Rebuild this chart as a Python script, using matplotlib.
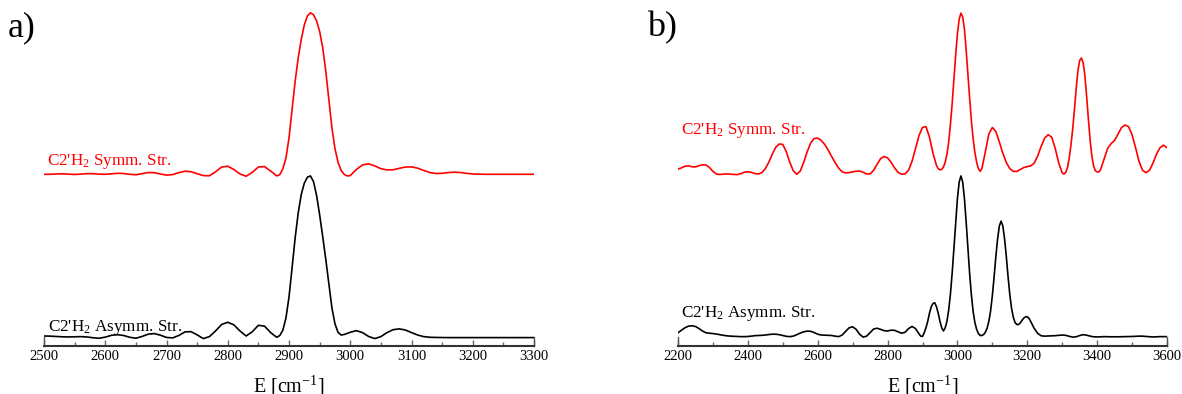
import matplotlib
matplotlib.use('Agg')
import matplotlib.pyplot as plt
from matplotlib.ticker import MultipleLocator

plt.rcParams['font.family'] = ['Liberation Serif', 'DejaVu Serif']
plt.rcParams['mathtext.fontset'] = 'custom'
plt.rcParams['mathtext.rm'] = 'Liberation Serif'
plt.rcParams['mathtext.it'] = 'Liberation Serif:italic'

# --- data: (E [cm-1], intensity normalised to tallest peak) ---
symm_a = [
    (2500, 0.000), (2510, 0.000), (2520, 0.002), (2530, 0.003), (2540, 0.001), (2550, -0.001),
    (2560, 0.001), (2570, 0.004), (2580, 0.004), (2590, 0.001), (2600, 0.000), (2610, 0.003),
    (2620, 0.006), (2630, 0.005), (2640, 0.000), (2650, -0.003), (2660, 0.004), (2670, 0.011),
    (2680, 0.010), (2690, 0.002), (2700, -0.005), (2710, -0.002), (2720, 0.010), (2730, 0.019),
    (2740, 0.016), (2750, 0.004), (2760, -0.008), (2770, -0.009), (2780, 0.015), (2790, 0.045),
    (2800, 0.050), (2810, 0.030), (2820, 0.002), (2830, -0.012), (2840, 0.012), (2850, 0.045),
    (2860, 0.048), (2870, 0.020), (2880, -0.010), (2885, -0.002), (2890, 0.035), (2895, 0.100),
    (2900, 0.225), (2905, 0.400), (2910, 0.575), (2915, 0.720), (2920, 0.835), (2925, 0.925),
    (2930, 0.980), (2935, 1.000), (2940, 0.988), (2945, 0.950), (2950, 0.885), (2955, 0.785),
    (2960, 0.640), (2965, 0.465), (2970, 0.290), (2975, 0.160), (2980, 0.075), (2985, 0.025),
    (2990, 0.000), (2995, -0.010), (3000, -0.008), (3010, 0.030), (3020, 0.058), (3030, 0.065),
    (3040, 0.052), (3050, 0.035), (3060, 0.027), (3070, 0.028), (3080, 0.037), (3090, 0.045),
    (3100, 0.046), (3110, 0.038), (3120, 0.024), (3130, 0.011), (3140, 0.005), (3150, 0.006),
    (3160, 0.011), (3170, 0.013), (3180, 0.011), (3190, 0.006), (3200, 0.002), (3210, 0.001),
    (3220, 0.000), (3240, 0.000), (3260, 0.000), (3280, 0.000), (3300, 0.000),
]
asymm_a = [
    (2500, 0.009), (2510, 0.008), (2520, 0.006), (2530, 0.004), (2540, 0.003), (2550, 0.004),
    (2560, 0.005), (2570, 0.003), (2580, -0.002), (2590, -0.005), (2600, 0.002), (2610, 0.013),
    (2620, 0.017), (2630, 0.012), (2640, 0.001), (2650, -0.005), (2660, 0.006), (2670, 0.020),
    (2680, 0.024), (2690, 0.014), (2700, 0.000), (2710, -0.003), (2720, 0.012), (2730, 0.034),
    (2740, 0.036), (2750, 0.016), (2760, -0.007), (2770, 0.005), (2780, 0.040), (2790, 0.080),
    (2800, 0.094), (2810, 0.078), (2820, 0.040), (2830, 0.009), (2840, 0.035), (2850, 0.075),
    (2860, 0.070), (2870, 0.030), (2880, 0.001), (2885, 0.012), (2890, 0.045), (2895, 0.120),
    (2900, 0.250), (2905, 0.430), (2910, 0.615), (2915, 0.770), (2920, 0.885), (2925, 0.955),
    (2930, 0.992), (2935, 1.000), (2940, 0.965), (2945, 0.880), (2950, 0.760), (2955, 0.625),
    (2960, 0.485), (2965, 0.335), (2970, 0.185), (2975, 0.085), (2980, 0.032), (2985, 0.015),
    (2990, 0.018), (3000, 0.032), (3010, 0.042), (3020, 0.030), (3030, 0.006), (3040, -0.007),
    (3050, 0.005), (3060, 0.030), (3070, 0.048), (3080, 0.053), (3090, 0.046), (3100, 0.030),
    (3110, 0.015), (3120, 0.005), (3130, 0.001), (3140, 0.000), (3160, -0.001), (3180, -0.001),
    (3200, -0.001), (3220, -0.001), (3240, -0.001), (3260, -0.001), (3280, -0.001), (3300, -0.001),
]
symm_b = [
    (2200, 0.032), (2210, 0.040), (2220, 0.050), (2230, 0.052), (2240, 0.047), (2250, 0.046),
    (2260, 0.053), (2270, 0.059), (2280, 0.058), (2290, 0.042), (2300, 0.018), (2310, 0.002),
    (2320, -0.001), (2330, 0.001), (2340, 0.002), (2350, 0.001), (2360, -0.001), (2370, -0.002),
    (2380, 0.004), (2390, 0.013), (2400, 0.016), (2410, 0.012), (2420, 0.005), (2430, 0.002),
    (2440, 0.010), (2450, 0.035), (2460, 0.075), (2470, 0.125), (2480, 0.168), (2490, 0.188),
    (2500, 0.185), (2510, 0.140), (2520, 0.075), (2530, 0.022), (2540, 0.000), (2550, 0.020),
    (2560, 0.075), (2570, 0.140), (2580, 0.195), (2590, 0.222), (2600, 0.224), (2610, 0.210),
    (2620, 0.185), (2630, 0.150), (2640, 0.110), (2650, 0.072), (2660, 0.038), (2670, 0.015),
    (2680, 0.009), (2690, 0.011), (2700, 0.015), (2710, 0.019), (2720, 0.020), (2730, 0.013),
    (2740, 0.002), (2750, 0.002), (2760, 0.025), (2770, 0.062), (2780, 0.097), (2790, 0.110),
    (2800, 0.102), (2810, 0.075), (2820, 0.040), (2830, 0.012), (2840, 0.001), (2850, 0.002),
    (2860, 0.025), (2870, 0.080), (2880, 0.160), (2890, 0.240), (2900, 0.290), (2910, 0.295),
    (2920, 0.230), (2930, 0.130), (2940, 0.055), (2945, 0.035), (2950, 0.028), (2955, 0.030),
    (2960, 0.045), (2965, 0.075), (2970, 0.125), (2975, 0.200), (2980, 0.310), (2985, 0.440),
    (2990, 0.590), (2995, 0.740), (3000, 0.870), (3005, 0.960), (3010, 0.998), (3015, 0.975),
    (3020, 0.900), (3025, 0.770), (3030, 0.620), (3035, 0.470), (3040, 0.330), (3045, 0.220),
    (3050, 0.135), (3055, 0.075), (3060, 0.035), (3065, 0.018), (3070, 0.035), (3080, 0.140),
    (3090, 0.250), (3100, 0.290), (3110, 0.265), (3120, 0.200), (3130, 0.130), (3140, 0.072),
    (3150, 0.035), (3160, 0.018), (3170, 0.018), (3180, 0.030), (3190, 0.042), (3200, 0.048),
    (3210, 0.052), (3220, 0.070), (3230, 0.115), (3240, 0.175), (3250, 0.225), (3260, 0.245),
    (3270, 0.230), (3280, 0.160), (3290, 0.070), (3300, 0.008), (3305, 0.002), (3310, 0.012),
    (3315, 0.040), (3320, 0.100), (3325, 0.180), (3330, 0.280), (3335, 0.400), (3340, 0.530),
    (3345, 0.640), (3350, 0.705), (3355, 0.720), (3360, 0.690), (3365, 0.610), (3370, 0.480),
    (3375, 0.340), (3380, 0.210), (3385, 0.110), (3390, 0.050), (3395, 0.022), (3400, 0.015),
    (3405, 0.015), (3410, 0.030), (3420, 0.095), (3430, 0.160), (3440, 0.190), (3450, 0.210),
    (3460, 0.250), (3470, 0.290), (3480, 0.305), (3490, 0.295), (3500, 0.245), (3510, 0.165),
    (3520, 0.080), (3530, 0.025), (3540, 0.010), (3550, 0.025), (3560, 0.070), (3570, 0.125),
    (3580, 0.165), (3590, 0.180), (3600, 0.165),
]
asymm_b = [
    (2200, 0.029), (2210, 0.045), (2220, 0.060), (2230, 0.070), (2240, 0.072), (2250, 0.068),
    (2260, 0.055), (2270, 0.040), (2280, 0.029), (2290, 0.026), (2300, 0.024), (2310, 0.021),
    (2320, 0.017), (2330, 0.013), (2340, 0.010), (2350, 0.008), (2360, 0.007), (2370, 0.006),
    (2380, 0.005), (2390, 0.005), (2400, 0.006), (2410, 0.008), (2420, 0.011), (2430, 0.012),
    (2440, 0.013), (2450, 0.015), (2460, 0.018), (2470, 0.020), (2480, 0.020), (2490, 0.017),
    (2500, 0.012), (2510, 0.007), (2520, 0.005), (2530, 0.008), (2540, 0.017), (2550, 0.027),
    (2560, 0.035), (2570, 0.039), (2580, 0.038), (2590, 0.030), (2600, 0.020), (2610, 0.015),
    (2620, 0.014), (2630, 0.013), (2640, 0.012), (2650, 0.008), (2660, 0.005), (2670, 0.015),
    (2680, 0.038), (2690, 0.060), (2700, 0.066), (2710, 0.050), (2720, 0.020), (2730, 0.002),
    (2740, 0.008), (2750, 0.030), (2760, 0.052), (2770, 0.057), (2780, 0.050), (2790, 0.042),
    (2800, 0.040), (2810, 0.045), (2820, 0.044), (2830, 0.035), (2840, 0.026), (2850, 0.032),
    (2860, 0.055), (2870, 0.068), (2880, 0.055), (2890, 0.022), (2895, 0.008), (2900, 0.006),
    (2905, 0.030), (2910, 0.060), (2915, 0.100), (2920, 0.150), (2925, 0.190), (2930, 0.210),
    (2935, 0.215), (2940, 0.190), (2945, 0.150), (2950, 0.100), (2955, 0.060), (2960, 0.040),
    (2965, 0.060), (2970, 0.100), (2975, 0.170), (2980, 0.270), (2985, 0.400), (2990, 0.555),
    (2995, 0.715), (3000, 0.860), (3005, 0.962), (3010, 1.000), (3015, 0.963), (3020, 0.861),
    (3025, 0.715), (3030, 0.550), (3035, 0.394), (3040, 0.261), (3045, 0.160), (3050, 0.092),
    (3055, 0.050), (3060, 0.025), (3065, 0.012), (3070, 0.012), (3075, 0.018), (3080, 0.032),
    (3085, 0.058), (3090, 0.100), (3095, 0.165), (3100, 0.260), (3105, 0.375), (3110, 0.500),
    (3115, 0.610), (3120, 0.690), (3125, 0.720), (3130, 0.690), (3135, 0.610), (3140, 0.500),
    (3145, 0.375), (3150, 0.265), (3155, 0.180), (3160, 0.125), (3165, 0.092), (3170, 0.080),
    (3175, 0.080), (3180, 0.090), (3185, 0.106), (3190, 0.120), (3195, 0.127), (3200, 0.128),
    (3205, 0.118), (3210, 0.098), (3220, 0.055), (3230, 0.025), (3240, 0.010), (3250, 0.008),
    (3260, 0.009), (3270, 0.010), (3280, 0.011), (3290, 0.013), (3300, 0.015), (3310, 0.013),
    (3320, 0.007), (3330, 0.002), (3340, 0.004), (3350, 0.012), (3360, 0.017), (3370, 0.014),
    (3380, 0.008), (3390, 0.004), (3400, 0.003), (3420, 0.005), (3440, 0.004), (3460, 0.004),
    (3480, 0.005), (3500, 0.006), (3520, 0.008), (3530, 0.008), (3540, 0.006), (3560, 0.003),
    (3580, 0.005), (3600, 0.005),
]

label_symm = "C2'H$_2$ Symm. Str."
label_asymm = "C2'H$_2$ Asymm. Str."
xlabel = "E [cm$^{-1}$]"

# vertical offsets of the stacked spectra (in intensity units)
off_black = 0.053
off_red = 1.063

fig = plt.figure(figsize=(11.82, 3.94), dpi=100)
ax_a = fig.add_axes([44 / 1182, 48 / 394, 490 / 1182, 340 / 394])
ax_b = fig.add_axes([678 / 1182, 48 / 394, 489 / 1182, 340 / 394])


def draw(ax, symm, asymm, xlim, major, minor, lab_pos):
    xs, ys = zip(*symm)
    ax.plot(xs, [y + off_red for y in ys], color='#ff0000', lw=1.2)
    xs, ys = zip(*asymm)
    ax.plot(xs, [y + off_black for y in ys], color='black', lw=1.2)

    ax.set_xlim(*xlim)
    ax.set_ylim(0, 2.105)
    for s in ['top', 'right']:
        ax.spines[s].set_visible(False)
    # short end bars like the original frame
    for s in ['left', 'right']:
        ax.spines[s].set_visible(True)
        ax.spines[s].set_bounds(0, 0.055)
        ax.spines[s].set_color('#555555')
        ax.spines[s].set_linewidth(1)
    ax.spines['bottom'].set_color('#333333')
    ax.spines['bottom'].set_linewidth(1.5)
    ax.set_yticks([])
    ax.xaxis.set_major_locator(MultipleLocator(major))
    ax.xaxis.set_minor_locator(MultipleLocator(minor))
    ax.tick_params(axis='x', which='major', direction='in', length=4.5, width=1,
                   color='#666666', labelsize=10.5, pad=3)
    ax.tick_params(axis='x', which='minor', direction='in', length=3, width=1,
                   color='#666666')
    ax.set_xlabel(xlabel, fontsize=14.5, labelpad=8)

    (xr, yr), (xk, yk) = lab_pos
    ax.text(xr, yr, label_symm, color='#ff0000', fontsize=12.3, va='baseline')
    ax.text(xk, yk, label_asymm, color='black', fontsize=12.3, va='baseline')


draw(ax_a, symm_a, asymm_a, (2500, 3300), 100, 50,
     [(2505, 1.121), (2507, 0.09)])
draw(ax_b, symm_b, asymm_b, (2200, 3600), 200, 100,
     [(2208, 1.311), (2210, 0.178)])

fig.text(8 / 1182, 1 - 11 / 394, 'a)', fontsize=26, va='top', ha='left')
fig.text(647 / 1182, 1 - 11 / 394, 'b)', fontsize=26, va='top', ha='left')

fig.savefig('out.png', dpi=100)
